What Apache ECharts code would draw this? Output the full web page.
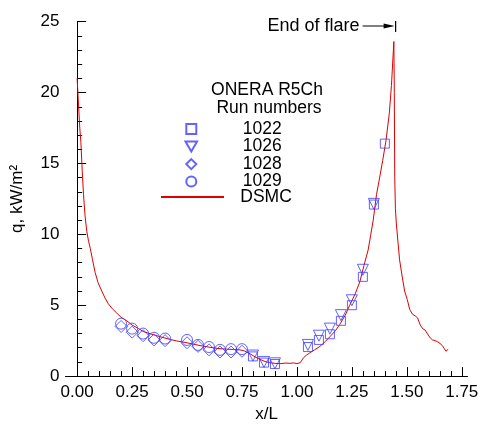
<!DOCTYPE html>
<html><head><meta charset="utf-8">
<script src="https://cdn.jsdelivr.net/npm/echarts@6/dist/echarts.min.js"></script>
<style>html,body{margin:0;padding:0;background:#fff}#c{width:487px;height:428px}</style>
</head><body><div id="c"></div>
<script>
// ---- data ----
const xMajorTicks = [0, 0.25, 0.5, 0.75, 1.0, 1.25, 1.5, 1.75];
const yTicks = [0, 5, 10, 15, 20, 25];

const dsmcX = [0.000,0.005,0.012,0.017,0.023,0.029,0.036,0.044,0.052,0.060,0.070,0.082,0.095,0.112,0.127,0.142,0.160,0.180,0.200,0.226,0.250,0.280,0.300,0.340,0.377,0.420,0.453,0.500,0.530,0.570,0.605,0.640,0.680,0.710,0.741,0.760,0.786,0.810,0.832,0.855,0.877,0.900,0.923,0.950,0.968,0.985,1.000,1.008,1.015,1.029,1.045,1.059,1.080,1.105,1.130,1.150,1.175,1.195,1.220,1.240,1.265,1.286,1.305,1.324,1.335,1.347,1.362,1.375,1.390,1.405,1.420,1.430,1.437,1.441,1.443,1.445,1.448,1.452,1.460,1.467,1.479,1.490,1.502,1.513,1.526,1.538,1.549,1.561,1.572,1.583,1.594,1.606,1.617,1.629,1.640,1.651,1.662,1.670,1.678,1.688];
const dsmcY = [21.0,19.5,17.5,16.5,14.5,12.8,11.3,10.2,9.5,9.0,8.2,7.3,6.6,6.0,5.5,5.1,4.75,4.45,4.15,3.9,3.6,3.35,3.15,2.95,2.78,2.6,2.48,2.35,2.25,2.12,2.03,1.95,1.9,1.88,1.85,1.78,1.58,1.35,1.18,1.03,0.94,0.9,0.88,0.92,0.9,0.93,0.88,0.75,0.95,1.28,1.5,1.65,1.85,2.1,2.45,2.78,3.2,3.65,4.3,5.0,5.8,6.65,7.8,8.9,9.9,11.0,12.8,13.9,15.2,16.6,18.5,20.5,22.5,23.6,20.0,14.0,11.8,10.8,9.4,8.2,7.0,6.0,5.4,4.7,4.36,4.25,4.1,3.6,3.35,3.25,2.98,2.7,2.55,2.5,2.42,2.3,2.15,1.95,1.75,1.9];

const run1022X = [0.80,0.85,0.90,1.05,1.10,1.15,1.20,1.25,1.30,1.35,1.40];
const run1022Y = [1.39,0.95,0.85,2.05,2.55,2.95,3.9,5.0,7.0,12.1,16.4];
const run1026X = [0.80,0.85,0.90,1.05,1.10,1.15,1.20,1.25,1.30,1.35];
const run1026Y = [1.45,1.0,0.9,2.2,2.85,3.35,4.3,5.35,7.5,12.15];
const run1028X = [0.20,0.25,0.30,0.35,0.40,0.50,0.55,0.60,0.65,0.70,0.75];
const run1028Y = [3.5,3.1,2.85,2.55,2.5,2.35,2.1,1.85,1.7,1.7,1.75];
const run1029X = [0.20,0.25,0.30,0.35,0.40,0.50,0.55,0.60,0.65,0.70,0.75];
const run1029Y = [3.7,3.35,3.0,2.7,2.65,2.55,2.2,2.05,1.85,1.9,1.9];

const flareEnd = 1.449;
const legendHeader = ['ONERA R5Ch', 'Run numbers'];
const runNames = ['1022', '1026', '1028', '1029'];
const dsmcName = 'DSMC';
const annotationText = 'End of flare';

// ---- chart ----
const FONT = '"Liberation Sans", Arial, Helvetica, sans-serif';
const BLUE = '#3c3cff';
const RED = '#e00000';
const zip = (xs, ys) => xs.map((x, i) => [x, ys[i]]);
const xMinorTicks = [];
for (let i = 0; i <= 35; i++) xMinorTicks.push(+(i * 0.05).toFixed(2));

const XMIN = -0.053, XMAX = 1.776;
const chart = echarts.init(document.getElementById('c'), null, {renderer: 'canvas'});

const symbols = ['rect', 'triangle', 'diamond', 'circle'];
const legendIcons = ['path://M0,0L9,0L9,9L0,9Z', 'path://M0,0L11,0L5.5,9.5Z', 'path://M5,0L10,5L5,10L0,5Z', 'circle'];
const sizes = [9, 11, 12, 11];
const rots = [0, 180, 0, 0];
const runX = [run1022X, run1026X, run1028X, run1029X];
const runY = [run1022Y, run1026Y, run1028Y, run1029Y];

const scatterSeries = runNames.map((n, i) => ({
  name: n, type: 'scatter', data: zip(runX[i], runY[i]), symbol: symbols[i], symbolSize: sizes[i], symbolRotate: rots[i],
  itemStyle: {color: 'rgba(0,0,0,0)', borderColor: BLUE, borderWidth: 1},
  z: 3, silent: true
}));

const legendText = w => ({fontFamily: FONT, fontSize: 17.5, color: '#000',
  rich: {c: {width: w, align: 'center', fontFamily: FONT, fontSize: 17.5, lineHeight: 17, color: '#000'}}});

const option = {
  animation: false,
  backgroundColor: '#fff',
  grid: {left: 65.5, right: 19.5, top: 21.7, bottom: 41, containLabel: false},
  xAxis: [{
    type: 'value', min: XMIN, max: XMAX,
    name: 'x/L', nameLocation: 'middle', nameGap: 28,
    nameTextStyle: {fontFamily: FONT, fontSize: 17, color: '#000'},
    axisLine: {show: true, lineStyle: {color: '#000', width: 1}},
    axisTick: {show: true, inside: true, length: 5, customValues: xMinorTicks, lineStyle: {color: '#000'}},
    axisLabel: {show: true, customValues: xMajorTicks, margin: 8, fontFamily: FONT, fontSize: 17, color: '#000',
      formatter: v => v.toFixed(2)},
    splitLine: {show: false}
  }, {
    type: 'value', min: XMIN, max: XMAX, position: 'bottom',
    axisLine: {show: false},
    axisTick: {show: true, inside: true, length: 9, customValues: xMajorTicks, lineStyle: {color: '#000'}},
    axisLabel: {show: false},
    splitLine: {show: false}
  }],
  yAxis: {
    type: 'value', min: yTicks[0], max: yTicks[yTicks.length - 1], interval: 5,
    name: 'q, kW/m\u00B2', nameLocation: 'middle', nameGap: 40,
    nameTextStyle: {fontFamily: FONT, fontSize: 17, color: '#000'},
    axisLine: {show: true, lineStyle: {color: '#000', width: 1}},
    axisTick: {show: true, inside: true, length: 9, lineStyle: {color: '#000'}},
    minorTick: {show: true, splitNumber: 5, length: 5, lineStyle: {color: '#000'}},
    axisLabel: {margin: 6, fontFamily: FONT, fontSize: 17, color: '#000'},
    splitLine: {show: false}
  },
  legend: [{
    orient: 'vertical', left: 184.5, top: 120.1, padding: 0,
    itemWidth: 63, itemHeight: 10, itemGap: -0.5,
    selectedMode: false, symbolKeepAspect: true, symbolRotate: 0,
    data: runNames.map((n, i) => ({name: n, icon: legendIcons[i]})),
    formatter: n => '{c|' + n + '}',
    textStyle: legendText(69)
  }, {
    orient: 'vertical', left: 160, top: 187.9, padding: 0,
    itemWidth: 63, itemHeight: 2, itemGap: 0,
    selectedMode: false,
    data: [dsmcName],
    formatter: n => '{c|' + n + '}',
    textStyle: legendText(74)
  }],
  series: scatterSeries.concat([
    {name: dsmcName, type: 'line', data: zip(dsmcX, dsmcY), symbol: 'none', showSymbol: false,
      lineStyle: {color: RED, width: 1}, itemStyle: {color: RED}, z: 2, silent: true}
  ])
};
chart.setOption(option);

const fx = chart.convertToPixel({xAxisIndex: 0}, flareEnd);
const ay = 26;
chart.setOption({
  graphic: [
    {type: 'text', x: 267, y: 90.5, style: {text: legendHeader[0], font: '17.5px ' + FONT, fill: '#000', align: 'center', verticalAlign: 'middle'}},
    {type: 'text', x: 269, y: 108.3, style: {text: legendHeader[1], font: '17.5px ' + FONT, fill: '#000', align: 'center', verticalAlign: 'middle'}},
    {type: 'text', x: fx - 36, y: ay, style: {text: annotationText, font: '18px ' + FONT, fill: '#000', align: 'right', verticalAlign: 'middle'}},
    {type: 'line', shape: {x1: fx - 33, y1: ay, x2: fx - 8, y2: ay}, style: {stroke: '#000', lineWidth: 1}},
    {type: 'polygon', shape: {points: [[fx - 12, ay - 2.5], [fx - 1, ay], [fx - 12, ay + 2.5]]}, style: {fill: '#000'}},
    {type: 'line', shape: {x1: fx, y1: ay - 5, x2: fx, y2: ay + 6}, style: {stroke: '#000', lineWidth: 1.2}}
  ]
});
</script>
</body></html>
